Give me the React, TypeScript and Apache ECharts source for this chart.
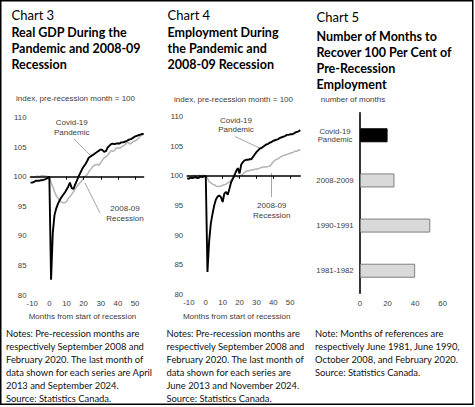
import React, { useEffect, useRef } from "react";
import * as echarts from "echarts";

// ---------- data ----------
const MONTH_START = -11;
const xTickValues = [-10, 0, 10, 20, 30, 40, 50];
const yTickMin = 80;
const yTickMax = 110;
const yTickStep = 5;

const gdpCovid = [
  99.0, 99.0, 99.1, 99.3, 99.3, 99.3, 99.4, 99.4, 99.5, 99.6, 99.8,
  100,
  82.6, 90.5, 93.5, 94.6, 95.4, 96.0, 96.5, 96.9, 97.3, 97.8, 98.3, 99.0, 98.1, 97.9, 98.6,
  99.3, 100.0, 100.6, 101.2, 101.7, 102.1, 102.6, 103.2, 103.4, 103.6, 103.8, 104.0, 104.2,
  104.4, 104.6, 104.5, 104.2, 104.3, 104.9, 105.2, 105.5, 105.6, 105.5, 105.6, 105.6, 105.6,
  105.8, 105.8, 105.9, 106.0, 106.2, 106.3, 106.4, 106.6, 106.8, 106.9, 107.0, 107.1, 107.2, 107.2,
];
const gdp2008 = [
  99.8, 99.9, 99.9, 100.0, 100.1, 100.0, 100.1, 100.2, 100.1, 100.1, 100.0,
  100,
  99.0, 98.3, 97.5, 96.8, 96.4, 96.0, 95.7, 95.6, 95.6, 95.8, 96.3, 96.6, 97.0, 97.4, 97.9,
  98.3, 98.7, 99.0, 99.3, 99.8, 100.1, 100.3, 100.8, 101.2, 101.6, 101.9, 102.0, 102.1, 101.9,
  102.4, 102.8, 103.2, 103.4, 103.6, 104.0, 104.4, 104.3, 104.4, 104.8, 104.9, 104.8, 105.0,
  105.2, 105.3, 105.7, 105.8, 105.5, 105.7, 106.0, 106.0, 106.2, 106.5, 106.8, 107.0, 107.2,
];
const empCovid = [
  99.6, 99.5, 99.7, 99.6, 99.7, 99.8, 99.6, 99.7, 99.9, 99.8, 99.9,
  100,
  83.8, 89.0, 92.0, 93.6, 95.0, 96.0, 96.5, 96.7, 96.4, 95.6, 97.0, 97.3, 96.8, 97.8, 98.9,
  99.5, 100.1, 100.8, 101.3, 100.4, 101.9, 102.3, 102.6, 102.7, 102.7, 102.8, 102.8, 103.2,
  103.6, 104.0, 104.3, 104.6, 104.7, 104.9, 105.1, 105.3, 105.4, 105.6, 105.7, 105.9, 106.0,
  106.1, 106.2, 106.4, 106.5, 106.6, 106.7, 106.9, 106.9, 107.0, 107.0, 107.1, 107.3, 107.4,
  107.5, 107.7,
];
const emp2008 = [
  99.9, 100.0, 99.9, 100.0, 100.1, 100.0, 100.0, 100.1, 100.0, 100.1, 100.0,
  100,
  99.6, 99.0, 98.8, 98.6, 98.5, 98.3, 98.2, 98.2, 98.3, 98.4, 98.5, 98.6, 98.8, 99.0, 99.3,
  99.6, 99.8, 100.0, 99.8, 99.9, 100.1, 100.3, 100.6, 100.8, 100.8, 100.9, 101.0, 101.0, 101.1,
  101.1, 101.2, 101.3, 101.4, 101.5, 101.5, 101.5, 101.6, 101.6, 102.0, 102.4, 102.6, 102.8,
  102.9, 103.1, 103.3, 103.4, 103.5, 103.6, 103.7, 103.8, 103.9, 104.0, 104.2, 104.1, 104.4, 104.3,
];

const recoveryCategories = ["Covid-19\nPandemic", "2008-2009", "1990-1991", "1981-1982"];
const recoveryMonths = [20, 25, 51, 40];
const recoveryTicks = [0, 20, 40, 60];

// ---------- styles ----------
const HEAD_FONT = "Lato, 'Open Sans', sans-serif";
const AXIS_FONT = "'Liberation Sans', Arial, sans-serif";
const AXIS_COLOR = "#404040";
const GRAY_LINE = "#b4b4b4";
const LEADER = "#a6a6a6";

const G = [
  { left: 30.5, right: 143.6, top: 117.5, bottom: 295, xMax: 55 },
  { left: 187.2, right: 300.3, top: 116.5, bottom: 294.5, xMax: 56 },
];
const G5 = { left: 360, right: 442.7, top: 112.7, bottom: 293.3 };

function toPairs(values: number[]) {
  return values.map((v, i) => [MONTH_START + i, v]);
}

function lineAxes(gi: number) {
  const g = G[gi];
  const h = g.bottom - g.top;
  const offset100 = -h * ((100 - yTickMin) / (yTickMax - yTickMin));
  return [
    {
      type: "value",
      gridIndex: gi,
      min: MONTH_START,
      max: g.xMax,
      position: "bottom",
      axisLine: { show: false },
      axisTick: { show: false },
      splitLine: { show: false },
      axisLabel: {
        customValues: xTickValues,
        fontFamily: AXIS_FONT,
        fontSize: 7.8,
        color: AXIS_COLOR,
        margin: 4,
      },
    },
    {
      type: "value",
      gridIndex: gi,
      min: MONTH_START,
      max: g.xMax,
      position: "bottom",
      offset: offset100,
      z: 5,
      axisLine: { show: true, onZero: false, lineStyle: { color: "#000", width: 1.6 } },
      axisTick: { show: true, customValues: xTickValues.slice(2), length: 3, lineStyle: { color: "#000", width: 1 } },
      splitLine: { show: false },
      axisLabel: { show: false },
    },
  ];
}

function lineYAxis(gi: number) {
  return {
    type: "value",
    gridIndex: gi,
    min: yTickMin,
    max: yTickMax,
    interval: yTickStep,
    axisLine: { show: false },
    axisTick: { show: false },
    splitLine: { show: false },
    axisLabel: { fontFamily: AXIS_FONT, fontSize: 7.8, color: AXIS_COLOR, margin: 4 },
  };
}

function txt(x: number, y: number, text: string, o: any = {}) {
  return {
    type: "text",
    x,
    y,
    silent: true,
    style: {
      text,
      fill: o.fill || "#000",
      fontFamily: o.fontFamily || HEAD_FONT,
      fontSize: o.fontSize || 9,
      fontWeight: o.fontWeight || "normal",
      align: o.align || "left",
      verticalAlign: o.verticalAlign || "top",
      lineHeight: o.lineHeight,
    },
  };
}

function leader(x1: number, y1: number, x2: number, y2: number) {
  return {
    type: "line",
    silent: true,
    shape: { x1, y1, x2, y2 },
    style: { stroke: LEADER, lineWidth: 1 },
  };
}

const notes3 =
  "Notes: Pre-recession months are\nrespectively September 2008 and\nFebruary 2020. The last month of\ndata shown for each series are April\n2013 and September 2024.\nSource: Statistics Canada.";
const notes4 =
  "Notes: Pre-recession months are\nrespectively September 2008 and\nFebruary 2020. The last month of\ndata shown for each series are\nJune 2013 and November 2024.\nSource: Statistics Canada.";
const notes5 =
  "Note: Months of references are\nrespectively June 1981, June 1990,\nOctober 2008, and February 2020.\nSource: Statistics Canada.";

const SMALL = { fontFamily: AXIS_FONT, fontSize: 8, fill: AXIS_COLOR, align: "center", verticalAlign: "middle" };

export default function App() {
  const ref = useRef<HTMLDivElement>(null);
  useEffect(() => {
    if (!ref.current) return;
    const chart = echarts.init(ref.current, null, { renderer: "svg" });
    const grids = [
      ...G.map((g) => ({
        left: g.left,
        top: g.top,
        width: g.right - g.left,
        height: g.bottom - g.top,
        containLabel: false,
        outerBoundsMode: "none",
      })),
      {
        left: G5.left,
        top: G5.top,
        width: G5.right - G5.left,
        height: G5.bottom - G5.top,
        containLabel: false,
        outerBoundsMode: "none",
      },
    ];
    const option: any = {
      animation: false,
      backgroundColor: "#fff",
      grid: grids,
      xAxis: [
        ...lineAxes(0),
        ...lineAxes(1),
        {
          type: "value",
          gridIndex: 2,
          min: 0,
          max: 60,
          interval: 20,
          axisLine: { show: false },
          axisTick: { show: false },
          splitLine: { show: false },
          axisLabel: {
            customValues: recoveryTicks,
            fontFamily: AXIS_FONT,
            fontSize: 7.8,
            color: AXIS_COLOR,
            margin: 6,
          },
        },
      ],
      yAxis: [
        lineYAxis(0),
        lineYAxis(1),
        {
          type: "category",
          gridIndex: 2,
          inverse: true,
          data: recoveryCategories,
          axisLine: { show: true, lineStyle: { color: "#000", width: 1.6 } },
          axisTick: { show: false },
          splitLine: { show: false },
          axisLabel: {
            fontFamily: AXIS_FONT,
            fontSize: 7.8,
            color: AXIS_COLOR,
            align: "center",
            margin: 25,
            lineHeight: 8.5,
          },
        },
      ],
      series: [
        {
          type: "line",
          xAxisIndex: 0,
          yAxisIndex: 0,
          data: toPairs(gdp2008),
          symbol: "none",
          lineStyle: { color: GRAY_LINE, width: 1.5 },
          z: 2,
        },
        {
          type: "line",
          xAxisIndex: 0,
          yAxisIndex: 0,
          data: toPairs(gdpCovid),
          symbol: "none",
          lineStyle: { color: "#000", width: 1.9 },
          z: 3,
        },
        {
          type: "line",
          xAxisIndex: 2,
          yAxisIndex: 1,
          data: toPairs(emp2008),
          symbol: "none",
          lineStyle: { color: GRAY_LINE, width: 1.5 },
          z: 2,
        },
        {
          type: "line",
          xAxisIndex: 2,
          yAxisIndex: 1,
          data: toPairs(empCovid),
          symbol: "none",
          lineStyle: { color: "#000", width: 1.9 },
          z: 3,
        },
        {
          type: "bar",
          xAxisIndex: 4,
          yAxisIndex: 2,
          barWidth: 14,
          data: recoveryMonths.map((v, i) => ({
            value: v,
            itemStyle:
              i === 0
                ? { color: "#000", borderColor: "#000", borderWidth: 1 }
                : { color: "#d9d9d9", borderColor: "#7f7f7f", borderWidth: 1 },
          })),
        },
      ],
      graphic: [
        {
          type: "rect",
          silent: true,
          shape: { x: 0.75, y: 0.75, width: 472, height: 403.5 },
          style: { fill: "none", stroke: "#000", lineWidth: 1.5 },
        },
        // headers
        txt(11.5, 15.3, "Chart 3", { fontSize: 13, verticalAlign: "middle" }),
        txt(11.5, 24.3, "Real GDP During the\nPandemic and 2008-09\nRecession", {
          fontSize: 12.5,
          fontWeight: "bold",
          lineHeight: 16,
        }),
        txt(167.5, 15.3, "Chart 4", { fontSize: 13, verticalAlign: "middle" }),
        txt(167.5, 24.3, "Employment During\nthe Pandemic and\n2008-09 Recession", {
          fontSize: 12.5,
          fontWeight: "bold",
          lineHeight: 16,
        }),
        txt(316.5, 16.7, "Chart 5", { fontSize: 13, verticalAlign: "middle" }),
        txt(316.5, 28, "Number of Months to\nRecover 100 Per Cent of\nPre-Recession\nEmployment", {
          fontSize: 12.5,
          fontWeight: "bold",
          lineHeight: 16,
        }),
        // axis sub-titles
        txt(75.5, 98.5, "index, pre-recession month = 100", SMALL),
        txt(233.5, 99.3, "index, pre-recession month = 100", SMALL),
        txt(353, 99.3, "number of months", SMALL),
        txt(82.5, 316.7, "Months from start of recession", SMALL),
        txt(236.7, 316.7, "Months from start of recession", SMALL),
        // annotations chart 3
        txt(71.7, 118, "Covid-19\nPandemic", { ...SMALL, verticalAlign: "top", lineHeight: 9.6 }),
        leader(74, 139, 90.5, 155.5),
        txt(125, 203.5, "2008-09\nRecession", { ...SMALL, verticalAlign: "top", lineHeight: 10 }),
        leader(85, 183, 100, 213),
        // annotations chart 4
        txt(236, 115.3, "Covid-19\nPandemic", { ...SMALL, verticalAlign: "top", lineHeight: 9.6 }),
        leader(235, 136.5, 261.7, 149),
        txt(271.7, 200, "2008-09\nRecession", { ...SMALL, verticalAlign: "top", lineHeight: 10 }),
        leader(271.5, 173, 271.5, 197),
        // notes
        txt(6, 326.5, notes3, { fontSize: 9.4, lineHeight: 13, fill: "#111" }),
        txt(166.5, 326.5, notes4, { fontSize: 9.4, lineHeight: 13, fill: "#111" }),
        txt(315, 326.8, notes5, { fontSize: 9.4, lineHeight: 13, fill: "#111" }),
      ],
    };
    chart.setOption(option);
    return () => chart.dispose();
  }, []);
  return (
    <div
      ref={ref}
      style={{ position: "absolute", left: 0, top: 0, width: 475, height: 407, background: "#fff" }}
    />
  );
}
